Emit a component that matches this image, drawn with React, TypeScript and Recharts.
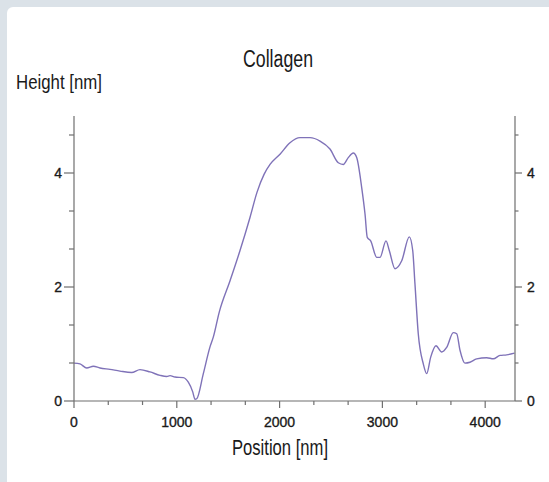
import React from 'react';
import { LineChart, Line, XAxis, YAxis } from 'recharts';

const POSITIONS = [0, 58, 124, 188, 253, 350, 447, 561, 642, 739, 837, 902, 934, 982, 1063, 1112, 1155, 1177, 1194, 1258, 1323, 1355, 1413, 1518, 1615, 1712, 1780, 1850, 1907, 2004, 2101, 2198, 2296, 2393, 2490, 2571, 2620, 2668, 2717, 2750, 2799, 2831, 2853, 2886, 2945, 2977, 3035, 3067, 3123, 3188, 3262, 3295, 3317, 3349, 3398, 3431, 3470, 3521, 3577, 3625, 3690, 3723, 3755, 3803, 3852, 3917, 4015, 4079, 4144, 4209, 4285];
const HEIGHTS = [0.665, 0.65, 0.58, 0.61, 0.58, 0.555, 0.525, 0.5, 0.55, 0.51, 0.45, 0.43, 0.445, 0.42, 0.41, 0.33, 0.16, 0.03, 0.04, 0.48, 0.95, 1.12, 1.56, 2.11, 2.64, 3.22, 3.66, 3.98, 4.15, 4.33, 4.53, 4.62, 4.62, 4.56, 4.42, 4.18, 4.15, 4.27, 4.35, 4.27, 3.74, 3.28, 2.87, 2.81, 2.52, 2.52, 2.81, 2.64, 2.32, 2.46, 2.88, 2.64, 2.05, 1.18, 0.65, 0.48, 0.77, 0.97, 0.86, 0.94, 1.2, 1.18, 0.89, 0.665, 0.68, 0.74, 0.76, 0.74, 0.8, 0.81, 0.84];

const X_TICKS = [0, 333.33, 666.67, 1000, 1333.33, 1666.67, 2000, 2333.33, 2666.67, 3000, 3333.33, 3666.67, 4000];
const Y_TICKS = [0, 0.6667, 1.3333, 2, 2.6667, 3.3333, 4, 4.6667];
const X_DOMAIN = [0, 4290];
const Y_DOMAIN = [0, 5];

const TITLE = 'Collagen';
const Y_TITLE = 'Height [nm]';
const X_TITLE = 'Position [nm]';

const data = POSITIONS.map((p, i) => ({ pos: p, h: HEIGHTS[i] }));

const AXIS = '#6f6f6f';
const TEXT = '#1a1a1a';
const LINE = '#7f72b8';
const TICK_FONT = 'Liberation Sans, Arial, sans-serif';
const TITLE_FONT = 'Liberation Sans, Arial, sans-serif';

const isMajorX = (v: number) => Math.abs(v / 1000 - Math.round(v / 1000)) < 0.01;
const isMajorY = (v: number) => Math.abs(v / 2 - Math.round(v / 2)) < 0.01;

const labelStyle = { fontSize: 14, fontFamily: TICK_FONT, fill: TEXT, stroke: TEXT, strokeWidth: 0.35 } as const;

const XTick = (props: any) => {
  const { x, y, payload } = props;
  const major = isMajorX(payload.value);
  return (
    <g>
      <line x1={x} x2={x} y1={y} y2={y + (major ? 7 : 4)} stroke={AXIS} strokeWidth={1.2} />
      {major && (
        <text x={x} y={y + 25.5} textAnchor="middle" {...labelStyle}>
          {Math.round(payload.value)}
        </text>
      )}
    </g>
  );
};

const LeftTick = (props: any) => {
  const { x, y, payload } = props;
  const major = isMajorY(payload.value);
  return (
    <g>
      <line x1={x - (major ? 10 : 5)} x2={x} y1={y} y2={y} stroke={AXIS} strokeWidth={1.2} />
      {major && (
        <text x={x - 12} y={y + 5} textAnchor="end" {...labelStyle}>
          {Math.round(payload.value)}
        </text>
      )}
    </g>
  );
};

const RightTick = (props: any) => {
  const { x, y, payload } = props;
  const major = isMajorY(payload.value);
  return (
    <g>
      <line x1={x} x2={x + (major ? 7 : 3.5)} y1={y} y2={y} stroke={AXIS} strokeWidth={1.2} />
      {major && (
        <text x={x + 12} y={y + 5} textAnchor="start" {...labelStyle}>
          {Math.round(payload.value)}
        </text>
      )}
    </g>
  );
};

export default function App() {
  return (
    <div style={{ position: 'absolute', left: 0, top: 0, width: 549, height: 482, background: '#dbe2e8', overflow: 'hidden' }}>
      <div style={{ position: 'absolute', left: 7, top: 7, width: 560, height: 500, background: '#ffffff', borderRadius: 6 }} />
      <div style={{ position: 'absolute', left: 0, top: 0 }}>
        <LineChart width={549} height={482} data={data} margin={{ top: 116, right: 0, bottom: 0, left: 0 }}>
          <XAxis
            dataKey="pos"
            type="number"
            domain={X_DOMAIN}
            ticks={X_TICKS}
            interval={0}
            height={81}
            tickSize={0}
            tickMargin={0}
            tickLine={false}
            axisLine={{ stroke: AXIS, strokeWidth: 1.2 }}
            tick={<XTick />}
            allowDataOverflow
          />
          <YAxis
            yAxisId="left"
            type="number"
            domain={Y_DOMAIN}
            ticks={Y_TICKS}
            interval={0}
            width={74}
            tickSize={0}
            tickMargin={0}
            tickLine={false}
            axisLine={{ stroke: AXIS, strokeWidth: 1.2 }}
            tick={<LeftTick />}
            allowDataOverflow
          />
          <YAxis
            yAxisId="right"
            orientation="right"
            type="number"
            domain={Y_DOMAIN}
            ticks={Y_TICKS}
            interval={0}
            width={34}
            tickSize={0}
            tickMargin={0}
            tickLine={false}
            axisLine={{ stroke: AXIS, strokeWidth: 1.2 }}
            tick={<RightTick />}
            allowDataOverflow
          />
          <Line
            yAxisId="left"
            type="monotone"
            dataKey="h"
            stroke={LINE}
            strokeWidth={1.4}
            dot={false}
            isAnimationActive={false}
          />
        </LineChart>
      </div>
      <svg width={549} height={482} style={{ position: 'absolute', left: 0, top: 0, pointerEvents: 'none' }}>
        <text x={243} y={67} textLength={70} lengthAdjust="spacingAndGlyphs" fontSize={23} fontFamily={TITLE_FONT} fill={TEXT}>{TITLE}</text>
        <text x={16} y={89} textLength={86} lengthAdjust="spacingAndGlyphs" fontSize={21} fontFamily={TITLE_FONT} fill={TEXT}>{Y_TITLE}</text>
        <text x={232} y={455} textLength={96} lengthAdjust="spacingAndGlyphs" fontSize={22} fontFamily={TITLE_FONT} fill={TEXT}>{X_TITLE}</text>
      </svg>
    </div>
  );
}
